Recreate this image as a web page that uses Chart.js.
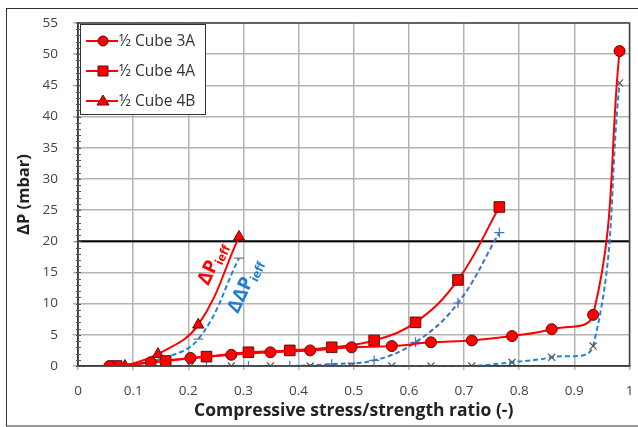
<!DOCTYPE html>
<html>
<head>
<meta charset="utf-8">
<script src="https://cdn.jsdelivr.net/npm/chart.js@4.4.1/dist/chart.umd.min.js"></script>
<style>
  html, body { margin: 0; padding: 0; background: #fff; }
  #wrap { width: 638px; height: 427px; position: relative; }
</style>
</head>
<body>
<div id="wrap"><canvas id="chart" width="638" height="427"></canvas></div>
<script>
const x3A = [0.057, 0.132, 0.204, 0.278, 0.349, 0.421, 0.496, 0.569, 0.640, 0.714, 0.787, 0.859, 0.934, 0.982];
const y3A = [0, 0.6, 1.3, 1.8, 2.2, 2.5, 3.0, 3.2, 3.8, 4.1, 4.8, 5.9, 8.2, 50.5];
const x4A = [0.070, 0.159, 0.233, 0.309, 0.384, 0.460, 0.537, 0.612, 0.689, 0.764];
const y4A = [0, 0.8, 1.5, 2.2, 2.5, 3.0, 4.1, 7.0, 13.8, 25.5];
const x4B = [0.085, 0.145, 0.218, 0.292];
const y4B = [0, 1.9, 6.6, 20.7];

// Differential curves (dashed blue)
const d3A = [0, 0, 0, 0, 0, 0, 0, 0, 0, 0, 0.6, 1.4, 3.2, 45.4];
const d4A = [0, 0, 0, 0, 0, 0.3, 0.9, 3.8, 10.1, 21.4];
const d4B = [0, 1.0, 4.3, 17.3];

// Threshold line
const limitX = [0, 1];
const limitY = [20, 20];

const xTicks = [0, 0.1, 0.2, 0.3, 0.4, 0.5, 0.6, 0.7, 0.8, 0.9, 1];
const yTicks = [0, 5, 10, 15, 20, 25, 30, 35, 40, 45, 50, 55];

const labels = ['½ Cube 3A', '½ Cube 4A', '½ Cube 4B'];
const styles = ['circle', 'rect', 'triangle'];

// Curve annotations: [x, y] data positions where the rotated text starts
const redNote = [0.236, 12.8];
const blueNote = [0.290, 8.3];

function pts(xs, ys) {
  return xs.map((x, i) => ({ x: x, y: ys[i] }));
}

const RED = '#ff0000';
const EDGE = '#5a1010';
const FONT = '"Open Sans", sans-serif';

function redSet(label, xs, ys, style, r) {
  return {
    label: label,
    data: pts(xs, ys),
    showLine: true,
    borderColor: RED,
    borderWidth: 2,
    tension: 0.4,
    pointStyle: style,
    pointRadius: r,
    pointBackgroundColor: RED,
    pointBorderColor: EDGE,
    pointBorderWidth: 1
  };
}

function blueSet(xs, ys, color, style, markColor) {
  return {
    label: '',
    data: pts(xs, ys),
    showLine: true,
    borderColor: color,
    borderWidth: 2,
    borderDash: [5, 3],
    tension: 0.4,
    pointStyle: style,
    pointRadius: 5,
    pointBackgroundColor: 'rgba(0,0,0,0)',
    pointBorderColor: markColor,
    pointBorderWidth: 1.2
  };
}

// Frame, plot border, minor ticks, legend and rotated labels
const decor = {
  id: 'decor',
  beforeDraw(chart) {
    const ctx = chart.ctx;
    ctx.save();
    ctx.fillStyle = '#fff';
    ctx.fillRect(0, 0, chart.width, chart.height);
    ctx.strokeStyle = '#333';
    ctx.lineWidth = 1;
    ctx.strokeRect(6.5, 8.5, 700, 417.5);
    ctx.restore();
  },
  afterDraw(chart) {
    const ctx = chart.ctx;
    const a = chart.chartArea;
    const ys = chart.scales.y;
    const xs = chart.scales.x;
    ctx.save();

    // plot border
    ctx.strokeStyle = '#444';
    ctx.lineWidth = 1.5;
    ctx.strokeRect(a.left, a.top, a.right - a.left, a.bottom - a.top);

    // minor ticks on the y axis
    ctx.lineWidth = 1;
    ctx.strokeStyle = '#555';
    for (let v = 0; v <= 55; v++) {
      const py = Math.round(ys.getPixelForValue(v)) + 0.5;
      ctx.beginPath();
      ctx.moveTo(a.left - 2, py);
      ctx.lineTo(a.left + 3, py);
      ctx.stroke();
    }

    // legend
    const lx = a.left + 2, ly = a.top + 1;
    ctx.fillStyle = '#fff';
    ctx.fillRect(lx, ly, 125, 90);
    ctx.strokeStyle = '#333';
    ctx.lineWidth = 1;
    ctx.strokeRect(lx + 0.5, ly + 0.5, 125, 90);
    ctx.font = '15.5px ' + FONT;
    ctx.textBaseline = 'middle';
    labels.forEach((t, i) => {
      const cy = ly + 17 + i * 30;
      ctx.strokeStyle = RED;
      ctx.lineWidth = 2;
      ctx.beginPath();
      ctx.moveTo(lx + 6, cy);
      ctx.lineTo(lx + 38, cy);
      ctx.stroke();
      const cx = lx + 23;
      ctx.fillStyle = RED;
      ctx.strokeStyle = EDGE;
      ctx.lineWidth = 1;
      ctx.beginPath();
      if (styles[i] === 'circle') {
        ctx.arc(cx, cy, 5, 0, Math.PI * 2);
      } else if (styles[i] === 'rect') {
        ctx.rect(cx - 5, cy - 5, 10, 10);
      } else {
        ctx.moveTo(cx, cy - 6);
        ctx.lineTo(cx + 6, cy + 4);
        ctx.lineTo(cx - 6, cy + 4);
        ctx.closePath();
      }
      ctx.fill();
      ctx.stroke();
      ctx.fillStyle = '#333';
      ctx.fillText(t, lx + 39, cy + 1);
    });

    // rotated curve labels
    function label(pos, main, sub, color) {
      ctx.save();
      ctx.translate(xs.getPixelForValue(pos[0]), ys.getPixelForValue(pos[1]));
      ctx.rotate(-65 * Math.PI / 180);
      ctx.fillStyle = color;
      ctx.textBaseline = 'alphabetic';
      ctx.font = 'bold 19px ' + FONT;
      ctx.fillText(main, 0, 0);
      const w = ctx.measureText(main).width;
      ctx.font = 'bold 12px ' + FONT;
      ctx.fillText(sub, w, 4);
      ctx.restore();
    }
    label(redNote, 'ΔP', 'ieff', RED);
    label(blueNote, 'ΔΔP', 'ieff', '#1f7fd6');

    ctx.restore();
  }
};

new Chart(document.getElementById('chart'), {
  type: 'scatter',
  data: {
    datasets: [
      redSet(labels[0], x3A, y3A, 'circle', 5.5),
      redSet(labels[1], x4A, y4A, 'rect', 7.5),
      redSet(labels[2], x4B, y4B, 'triangle', 6.5),
      blueSet(x3A, d3A, '#1f85d8', 'crossRot', '#555'),
      blueSet(x4A, d4A, '#3f72c0', 'cross', '#3f72c0'),
      blueSet(x4B, d4B, '#1f85d8', 'line', '#777'),
      {
        label: '',
        data: pts(limitX, limitY),
        showLine: true,
        borderColor: '#000',
        borderWidth: 2,
        pointRadius: 0,
        tension: 0
      }
    ]
  },
  plugins: [decor],
  options: {
    responsive: false,
    animation: false,
    layout: { padding: { left: 0, right: 1, top: 23, bottom: 0 } },
    plugins: {
      legend: { display: false },
      tooltip: { enabled: false }
    },
    scales: {
      x: {
        type: 'linear',
        min: 0,
        max: 1,
        afterBuildTicks(scale) {
          scale.ticks = xTicks.map(v => ({ value: v }));
        },
        afterFit(scale) {
          scale.height = 61;
          scale.paddingLeft = 0;
          scale.paddingRight = 0;
        },
        grid: { color: '#b4b4b4', lineWidth: 1.5, tickLength: 4 },
        border: { color: '#222', width: 1.5 },
        ticks: {
          color: '#444',
          padding: 13,
          maxRotation: 0,
          font: { family: FONT, size: 13.5 },
          callback: v => String(+v.toFixed(1))
        },
        title: {
          display: true,
          text: 'Compressive stress/strength ratio (-)',
          color: '#222',
          font: { family: FONT, size: 17.5, weight: 'bold' },
          padding: { top: 0, bottom: 5 }
        }
      },
      y: {
        type: 'linear',
        min: 0,
        max: 55,
        afterBuildTicks(scale) {
          scale.ticks = yTicks.map(v => ({ value: v }));
        },
        afterFit(scale) {
          scale.width = 78;
          scale.paddingTop = 0;
          scale.paddingBottom = 0;
        },
        grid: { color: '#b4b4b4', lineWidth: 1.5, tickLength: 5 },
        border: { color: '#222', width: 1.5 },
        ticks: {
          color: '#444',
          padding: 15,
          font: { family: FONT, size: 13.5 },
          callback: v => (v < 10 ? '\u2007' : '') + v
        },
        title: {
          display: true,
          text: 'ΔP (mbar)',
          color: '#222',
          font: { family: FONT, size: 16.5, weight: 'bold' },
          padding: { top: 14, bottom: 0 }
        }
      }
    }
  }
});
</script>
</body>
</html>
